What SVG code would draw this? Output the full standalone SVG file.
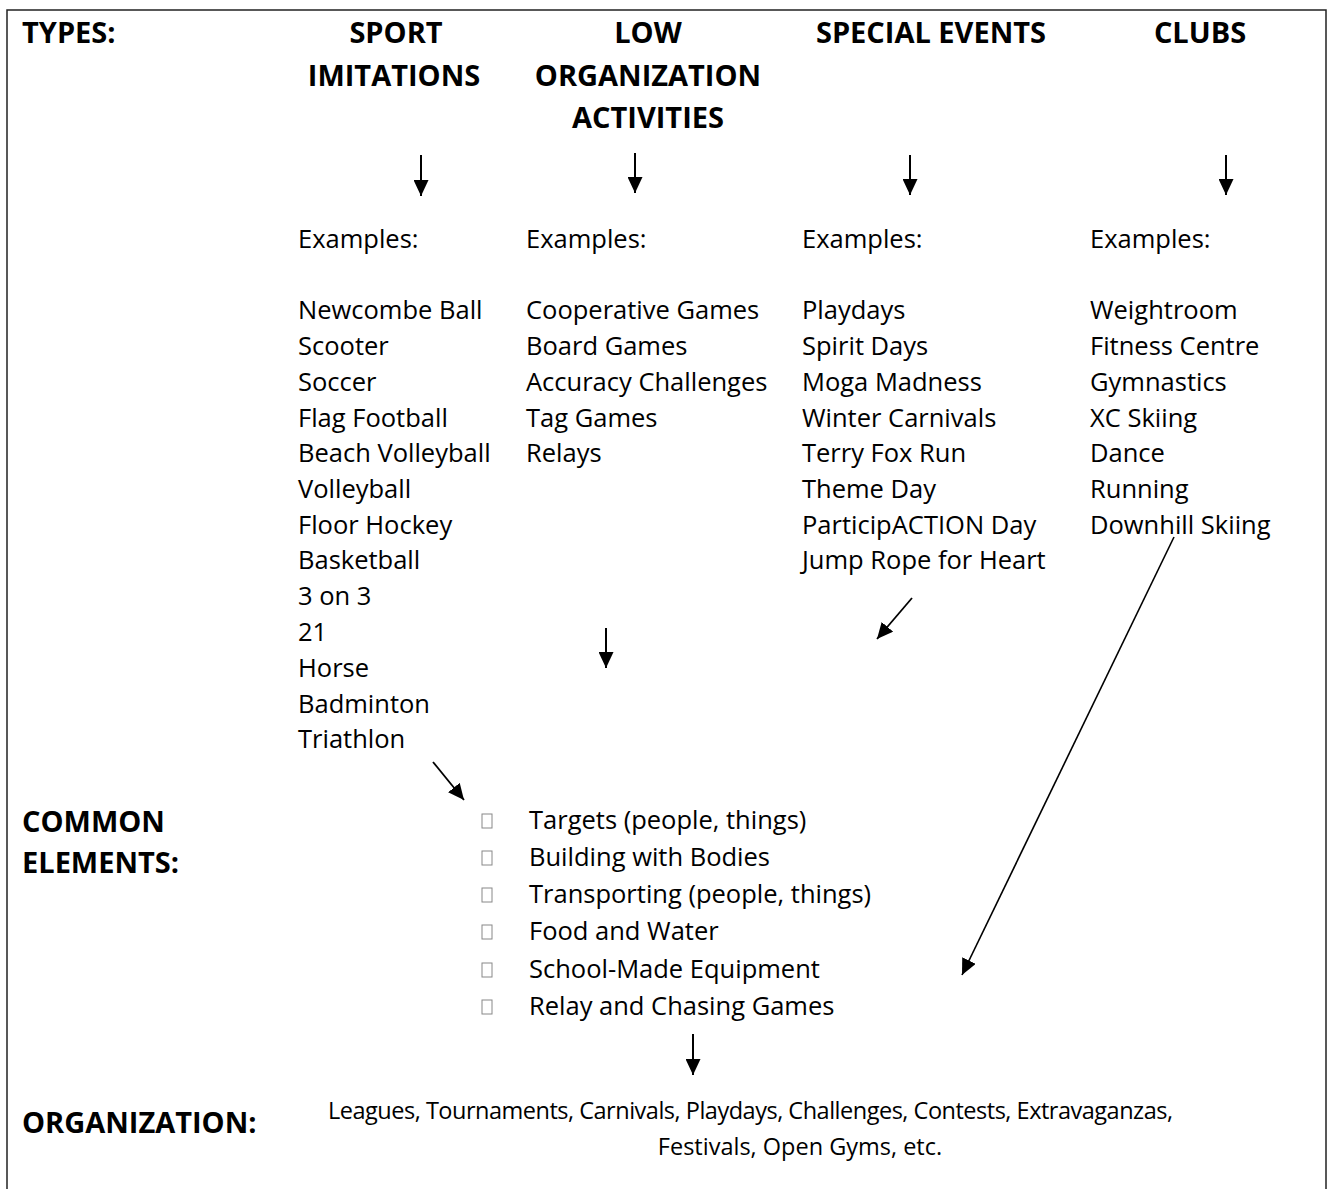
<svg xmlns="http://www.w3.org/2000/svg" width="1327" height="1189" viewBox="0 0 1327 1189">
<style>
.hd{font-family:"Open Sans","Liberation Sans",sans-serif;font-weight:bold;font-size:29px;fill:#000}
.tx{font-family:"Open Sans","Liberation Sans",sans-serif;font-size:25.5px;fill:#000}
.org{font-family:"Open Sans","Liberation Sans",sans-serif;font-size:23.5px;fill:#000}
.mid{text-anchor:middle}
.con{stroke:#000;fill:none}
.blt{fill:none;stroke:#888;stroke-width:1}
</style>
<defs>
<marker id="ah" markerUnits="userSpaceOnUse" viewBox="0 0 16 15" markerWidth="16" markerHeight="15" refX="16" refY="7.5" orient="auto">
<path d="M0,0 L16,7.5 L0,15 z" fill="#000"/>
</marker>
</defs>
<rect width="1327" height="1189" fill="#fff"/>
<g id="frame" stroke="#222" stroke-width="1.5" fill="none">
<path d="M7,1189 V10 H1326 V1189"/>
</g>
<g id="types-label"><text class="hd" x="22" y="43">TYPES:</text></g>
<g id="sport">
<text class="hd mid" x="396" y="43">SPORT</text>
<text class="hd mid" x="394" y="86">IMITATIONS</text>
</g>
<g id="low">
<text class="hd mid" x="648" y="43">LOW</text>
<text class="hd mid" x="648" y="86">ORGANIZATION</text>
<text class="hd mid" x="648" y="128">ACTIVITIES</text>
</g>
<g id="special"><text class="hd mid" x="931" y="43">SPECIAL EVENTS</text></g>
<g id="clubs"><text class="hd mid" x="1200" y="43">CLUBS</text></g>
<g id="sport-examples" class="tx">
<text x="298" y="248">Examples:</text>
<text x="298" y="319">Newcombe Ball</text>
<text x="298" y="355">Scooter</text>
<text x="298" y="391">Soccer</text>
<text x="298" y="427">Flag Football</text>
<text x="298" y="462">Beach Volleyball</text>
<text x="298" y="498">Volleyball</text>
<text x="298" y="534">Floor Hockey</text>
<text x="298" y="569">Basketball</text>
<text x="298" y="605">3 on 3</text>
<text x="298" y="641">21</text>
<text x="298" y="677">Horse</text>
<text x="298" y="713">Badminton</text>
<text x="298" y="748">Triathlon</text>
</g>
<g id="low-examples" class="tx">
<text x="526" y="248">Examples:</text>
<text x="526" y="319">Cooperative Games</text>
<text x="526" y="355">Board Games</text>
<text x="526" y="391">Accuracy Challenges</text>
<text x="526" y="427">Tag Games</text>
<text x="526" y="462">Relays</text>
</g>
<g id="special-examples" class="tx">
<text x="802" y="248">Examples:</text>
<text x="802" y="319">Playdays</text>
<text x="802" y="355">Spirit Days</text>
<text x="802" y="391">Moga Madness</text>
<text x="802" y="427">Winter Carnivals</text>
<text x="802" y="462">Terry Fox Run</text>
<text x="802" y="498">Theme Day</text>
<text x="802" y="534">ParticipACTION Day</text>
<text x="802" y="569">Jump Rope for Heart</text>
</g>
<g id="clubs-examples" class="tx">
<text x="1090" y="248">Examples:</text>
<text x="1090" y="319">Weightroom</text>
<text x="1090" y="355">Fitness Centre</text>
<text x="1090" y="391">Gymnastics</text>
<text x="1090" y="427">XC Skiing</text>
<text x="1090" y="462">Dance</text>
<text x="1090" y="498">Running</text>
<text x="1090" y="534">Downhill Skiing</text>
</g>
<g id="common-label">
<text class="hd" x="22" y="832">COMMON</text>
<text class="hd" x="22" y="873">ELEMENTS:</text>
</g>
<g id="common-elements">
<rect class="blt" x="482" y="814" width="10" height="14"/>
<rect class="blt" x="482" y="851" width="10" height="14"/>
<rect class="blt" x="482" y="888" width="10" height="14"/>
<rect class="blt" x="482" y="925" width="10" height="14"/>
<rect class="blt" x="482" y="963" width="10" height="14"/>
<rect class="blt" x="482" y="1000" width="10" height="14"/>
<g class="tx">
<text x="529" y="829">Targets (people, things)</text>
<text x="529" y="866">Building with Bodies</text>
<text x="529" y="903">Transporting (people, things)</text>
<text x="529" y="940">Food and Water</text>
<text x="529" y="978">School-Made Equipment</text>
<text x="529" y="1015">Relay and Chasing Games</text>
</g>
</g>
<g id="organization-label"><text class="hd" x="22" y="1133">ORGANIZATION:</text></g>
<g id="organization" class="org">
<text x="328" y="1119" textLength="845" lengthAdjust="spacing">Leagues, Tournaments, Carnivals, Playdays, Challenges, Contests, Extravaganzas,</text>
<text class="mid" x="800" y="1155">Festivals, Open Gyms, etc.</text>
</g>
<g id="connectors" class="con" marker-end="url(#ah)">
<line x1="421" y1="155" x2="421" y2="196" stroke-width="2"/>
<line x1="635" y1="153" x2="635" y2="193" stroke-width="2"/>
<line x1="910" y1="155" x2="910" y2="195" stroke-width="2"/>
<line x1="1226" y1="155" x2="1226" y2="195" stroke-width="2"/>
<line x1="606" y1="628" x2="606" y2="668" stroke-width="2"/>
<line x1="693" y1="1034" x2="693" y2="1075" stroke-width="2"/>
<line x1="433" y1="762" x2="464" y2="800" stroke-width="1.8"/>
<line x1="912" y1="598" x2="877" y2="639" stroke-width="1.8"/>
<line x1="1174" y1="537" x2="962" y2="975" stroke-width="1.6"/>
</g>
</svg>
